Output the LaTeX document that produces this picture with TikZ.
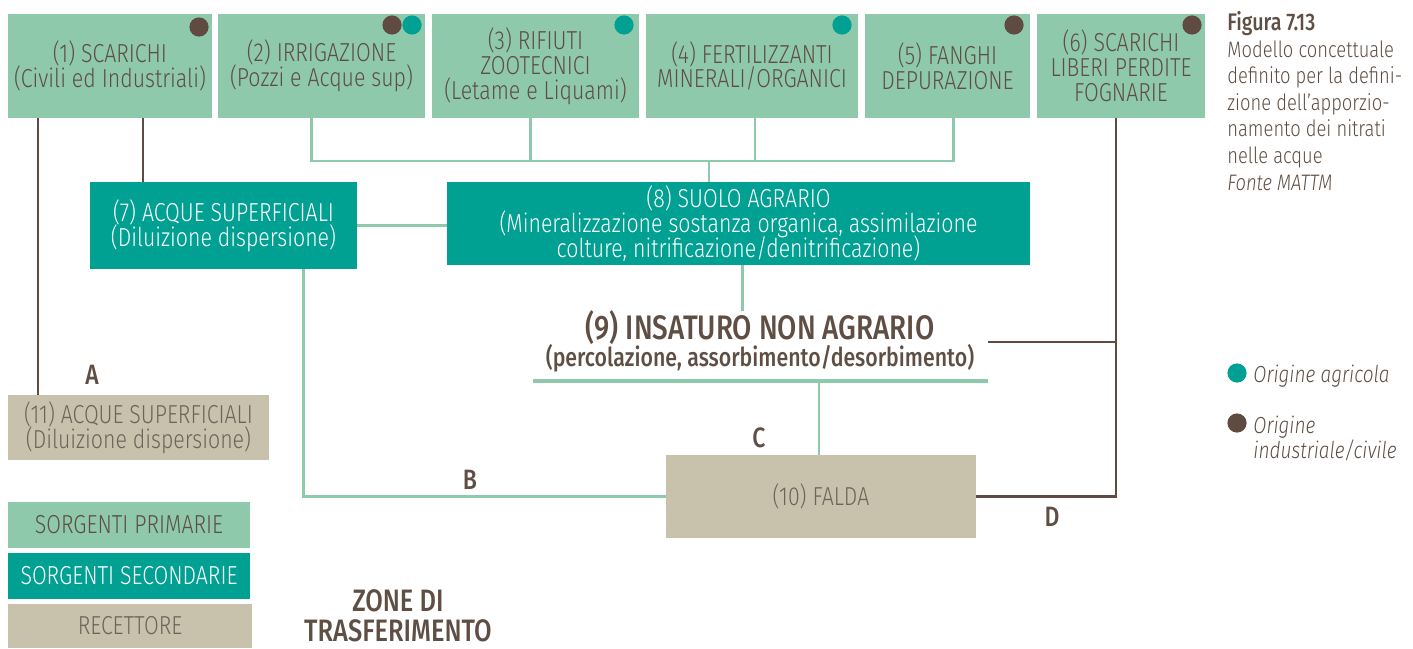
\documentclass[tikz,border=0pt]{standalone}
\usepackage{fontspec}
\setmainfont{Fira Sans}[FakeStretch=0.82, UprightFont=* Light, ItalicFont=* Light Italic,
    BoldFont=* Medium, BoldItalicFont=* Medium Italic]
\usetikzlibrary{positioning, calc}
\definecolor{primgreen}{RGB}{143,201,171}
\definecolor{secteal}{RGB}{0,160,146}
\definecolor{recbeige}{RGB}{200,193,172}
\definecolor{linebrown}{RGB}{95,75,65}
\definecolor{textbrown}{RGB}{95,78,68}
\definecolor{faldatext}{RGB}{112,100,90}
\newcommand{\boxfont}{\fontsize{13}{12.4}\selectfont\lineskiplimit=-100pt\relax\lineskip=0pt\relax}
\tikzset{
    boxtext/.style={font=\boxfont, align=center, inner sep=0pt},
    primbox/.style={boxtext, fill=primgreen, text=textbrown},
    secbox/.style={boxtext, fill=secteal, text=white},
    recbox/.style={boxtext, fill=recbeige, text=faldatext},
    greenline/.style={draw=primgreen, line width=1.4pt},
    brownline/.style={draw=linebrown, line width=1.1pt},
    agrdot/.style={circle, fill=secteal, minimum size=9.6pt, inner sep=0pt},
    inddot/.style={circle, fill=linebrown, minimum size=9.6pt, inner sep=0pt},
    zonelabel/.style={font=\fontsize{14}{16}\bfseries, text=textbrown},
}
\begin{document}
\begin{tikzpicture}[x=0.5pt, y=-0.5pt]
    \useasboundingbox (0,0) rectangle (1413,648);

    % Primary sources
    \node[primbox, minimum width=102pt, minimum height=52pt] (s1) at (110,66)
        {(1) SCARICHI\\(Civili ed Industriali)};
    \node[primbox, minimum width=103.5pt, minimum height=52pt] (s2) at (321.5,66)
        {(2) IRRIGAZIONE\\(Pozzi e Acque sup)};
    \node[primbox, minimum width=103.5pt, minimum height=52pt] (s3) at (535.5,66)
        {(3) RIFIUTI\\ZOOTECNICI\\(Letame e Liquami)};
    \node[primbox, minimum width=106pt, minimum height=52pt] (s4) at (752,66)
        {(4) FERTILIZZANTI\\MINERALI/ORGANICI};
    \node[primbox, minimum width=82.5pt, minimum height=52pt] (s5) at (947.5,66)
        {(5) FANGHI\\DEPURAZIONE};
    \node[primbox, minimum width=84pt, minimum height=52pt] (s6) at (1121,66)
        {(6) SCARICHI\\LIBERI PERDITE\\FOGNARIE};

    % Origin dots
    \node[inddot] (d1) at (199,27) {};
    \node[inddot] (d2a) at (392,25) {};
    \node[agrdot] (d2b) at (412,25) {};
    \node[agrdot] (d3) at (624,25) {};
    \node[agrdot] (d4) at (842,25) {};
    \node[inddot] (d5) at (1014,25) {};
    \node[inddot] (d6) at (1192,25) {};

    % Secondary sources
    \node[secbox, minimum width=133.5pt, minimum height=43.5pt] (s7) at (223.5,225.5)
        {(7) ACQUE SUPERFICIALI\\(Diluizione dispersione)};
    \node[secbox, minimum width=291.5pt, minimum height=41.5pt] (s8) at (738.5,223.5)
        {(8) SUOLO AGRARIO\\(Mineralizzazione sostanza organica, assimilazione\\colture, nitrificazione/denitrificazione)};

    % Unsaturated zone
    \node[font=\fontsize{17}{19}\bfseries, text=textbrown, inner sep=0pt] (ins-t) at (760,328)
        {(9) INSATURO NON AGRARIO};
    \node[font=\fontsize{13}{15}\bfseries, text=textbrown, inner sep=0pt] (ins-s) at (760,358)
        {(percolazione, assorbimento/desorbimento)};
    \coordinate (ul-w) at (533,381);
    \coordinate (ul-e) at (988,381);
    \coordinate (ins-r) at (988,342);

    % Receptors
    \node[recbox, minimum width=155pt, minimum height=41.5pt] (r10) at (821,496.5) {(10) FALDA};
    \node[recbox, minimum width=130.5pt, minimum height=32.5pt] (r11) at (138.5,427.5)
        {(11) ACQUE SUPERFICIALI\\(Diluizione dispersione)};

    % Green connectors
    \coordinate (bus) at (709,161);
    \draw[greenline] ($(s2.south)+(-10,0)$) |- ($(bus -| s5.south)+(6,0)$) -- ($(s5.south)+(6,0)$);
    \draw[greenline] ($(s3.south)+(-5,0)$) -- ($(s3.south |- bus)+(-5,0)$);
    \draw[greenline] ($(s4.south)+(3,0)$) -- ($(s4.south |- bus)+(3,0)$);
    \draw[greenline] (bus) -- (bus |- s8.north);
    \draw[greenline] (s7.east) -- (s7.east -| s8.west);
    \draw[greenline] ($(s7.south east)+(-54,0)$) |- (r10.west);
    \draw[greenline] ($(s8.south)+(4,0)$) -- ($(s8.south |- ins-t.north)+(4,0)$);
    \draw[greenline, line width=1.6pt] (ul-w) -- (ul-e);
    \draw[greenline] ($(r10.north |- ul-e)+(-2,0)$) -- ($(r10.north)+(-2,0)$);

    % Brown connectors
    \draw[brownline] ($(s1.south west)+(30,0)$) -- ($(s1.south west |- r11.north)+(30,0)$);
    \draw[brownline] ($(s1.south west)+(135,0)$) -- ($(s1.south west |- s7.north)+(135,0)$);
    \draw[brownline] ($(s6.south)+(-5,0)$) |- (r10.east);
    \draw[brownline] (ins-r) -- ($(ins-r -| s6.south)+(-5,0)$);

    % Transfer zones
    \node[zonelabel] (za) at (92,375) {A};
    \node[zonelabel] (zb) at (470,480) {B};
    \node[zonelabel] (zc) at (759,438) {C};
    \node[zonelabel] (zd) at (1052,517) {D};

    % Legend
    \node[primbox, minimum width=121pt, minimum height=23pt] (lp) at (129,525) {SORGENTI PRIMARIE};
    \node[secbox, minimum width=121pt, minimum height=23pt] (ls) at (129,576) {SORGENTI SECONDARIE};
    \node[recbox, minimum width=122pt, minimum height=22pt] (lr) at (130,626) {RECETTORE};
    \node[zonelabel, align=center, font=\fontsize{15.5}{15}\bfseries] (lz) at (398,616)
        {ZONE DI\\TRASFERIMENTO};

    \node[agrdot] (la) at (1237,373) {};
    \node[inddot] (li) at (1237,423) {};
    \node[anchor=west, font=\fontsize{11.6}{12.5}\itshape, text=textbrown, inner sep=0pt]
        (la-t) at (1253,376) {Origine agricola};
    \node[anchor=north west, align=left, font=\fontsize{11.6}{12.5}\itshape, text=textbrown, inner sep=0pt]
        (li-t) at (1253,416) {Origine\\industriale/civile};

    % Caption
    \node[anchor=north west, align=left, font=\fontsize{11.2}{13.3}\selectfont, text=textbrown, inner sep=0pt]
        (cap) at (1227,11) {{\fontsize{12}{13.3}\bfseries Figura 7.13}\\Modello concettuale\\definito per la defini-\\zione dell’apporzio-\\namento dei nitrati\\nelle acque\\\textit{Fonte MATTM}};
\end{tikzpicture}
\end{document}
